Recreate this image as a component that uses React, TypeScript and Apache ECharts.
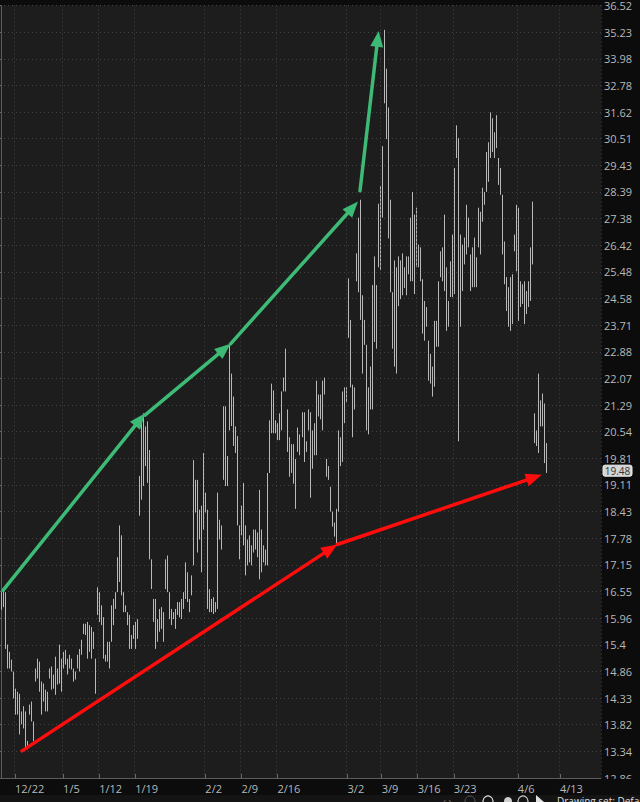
import React, { useEffect, useRef } from 'react';
import * as echarts from 'echarts';

// ---- axis tick labels ----
const yTickLabels = ['12.86','13.34','13.82','14.33','14.86','15.4','15.96','16.55','17.15','17.78','18.43','19.11','19.81','20.54','21.29','22.07','22.88','23.71','24.58','25.48','26.42','27.38','28.39','29.43','30.51','31.62','32.78','33.98','35.23','36.52'];
const xTickLabels = ['12/22','1/5','1/12','1/19','2/2','2/9','2/16','3/2','3/9','3/16','3/23','4/6','4/13'];
const xTickSlots = [7, 31, 49, 67, 102, 120, 138, 173, 190, 208, 226, 258, 279];
const SLOT_COUNT = 300;

// ---- bar lows / highs (one bar per slot) ----
const barLows = [
  16.14,16.20,15.31,14.91,14.91,14.85,14.32,14.01,14.01,13.64,13.83,13.75,13.39,13.37,14.01,13.88,13.52,14.65,14.71,14.45,
  14.01,14.26,14.07,14.07,14.71,14.49,14.51,14.39,14.59,14.61,14.45,14.91,14.99,14.79,14.91,14.89,14.65,14.69,14.91,14.85,
  15.19,15.62,15.60,15.11,15.25,15.11,15.31,14.41,16.03,15.88,15.81,15.11,15.05,15.05,14.91,15.46,15.81,16.16,16.53,16.76,
  16.46,16.09,16.09,15.81,15.31,15.31,15.52,15.31,15.52,18.33,
  18.73,19.08,19.60,19.16,17.28,16.60,15.88,15.31,15.46,15.67,15.73,15.46,16.60,16.53,15.94,15.81,15.94,15.73,16.03,15.98,
  15.94,16.16,16.38,16.31,16.09,16.46,17.14,18.41,17.44,17.75,16.98,17.99,18.41,16.16,16.09,16.09,16.05,16.09,16.16,17.75,
  17.51,19.24,19.08,19.08,20.57,20.69,20.14,19.95,18.09,17.28,17.85,17.61,16.91,17.14,17.21,17.14,17.44,17.51,17.33,16.82,
  16.98,17.21,17.14,17.14,19.42,20.49,20.49,20.49,20.30,20.30,
  20.57,21.68,21.68,19.98,19.32,19.42,19.14,18.50,19.98,19.89,20.38,19.71,19.98,20.57,18.78,19.53,19.89,19.89,20.96,20.88,
  20.57,21.59,19.32,19.24,18.43,18.06,17.82,17.65,18.43,19.60,19.71,20.77,21.36,23.31,21.80,20.38,21.16,25.16,24.79,23.88,
  22.21,23.09,20.57,20.46,21.16,21.16,23.18,22.97,25.64,25.54,27.42,32.00,30.49,26.66,24.79,22.97,22.42,22.21,24.33,24.56,
  24.69,24.93,24.69,25.40,25.16,
  25.16,24.73,25.64,25.64,25.16,23.44,23.22,23.66,22.00,21.91,21.53,21.82,23.03,23.03,25.30,25.16,24.83,23.53,23.66,24.63,
  24.63,24.73,29.72,20.27,23.66,24.83,25.74,26.09,26.34,24.83,24.96,24.96,24.96,26.34,26.09,27.27,27.90,28.39,28.78,29.72,
  29.96,29.72,30.12,28.66,28.28,26.09,25.06,24.17,23.66,23.53,23.75,26.20,25.50,23.85,24.30,24.40,23.75,24.07,24.30,24.50,
  25.74,20.22,20.14,19.95,20.68,20.68,19.68,19.42
];
const barHighs = [
  16.53,16.57,16.53,15.40,15.25,15.09,14.85,14.51,14.45,14.41,14.07,14.17,14.07,13.52,14.20,14.26,13.88,14.91,15.11,15.05,
  14.65,14.61,14.49,14.45,14.91,14.95,14.79,15.15,14.91,15.40,15.11,15.25,15.29,15.11,15.19,15.11,14.91,14.85,15.19,15.31,
  15.50,15.84,15.84,15.88,15.81,15.77,15.67,15.11,16.64,16.53,16.24,15.98,15.19,15.46,15.46,16.24,16.38,16.53,17.33,18.09,
  17.85,16.53,16.24,16.09,16.03,15.60,15.81,15.88,15.94,19.34,
  20.96,21.05,20.68,20.82,20.03,17.28,16.38,16.38,15.94,16.16,16.20,16.09,17.28,17.37,16.53,16.16,16.09,16.16,16.31,16.31,
  16.38,16.53,17.21,16.98,16.38,16.91,19.76,19.24,19.24,18.48,18.58,19.95,18.91,18.48,16.60,16.38,16.42,16.31,18.91,18.23,
  18.09,21.25,21.25,19.87,23.12,22.21,21.53,20.68,20.41,18.09,18.58,19.16,18.09,17.75,17.85,17.61,17.99,17.99,17.92,18.98,
  17.99,17.61,17.51,19.42,20.85,21.91,21.71,20.85,20.77,21.05,
  21.68,22.09,22.97,21.16,20.38,20.19,20.19,19.79,20.65,20.46,21.08,21.08,20.27,21.16,21.08,20.57,20.77,22.00,21.59,21.59,
  22.00,22.09,19.79,19.60,19.06,18.43,18.16,18.50,20.57,20.38,21.68,21.80,21.80,25.26,23.88,21.88,21.80,26.13,27.42,28.09,
  24.69,23.88,23.09,21.80,22.42,25.03,26.02,25.03,27.94,28.62,30.20,35.34,33.53,31.82,28.09,24.79,25.88,25.64,26.02,25.88,
  26.13,25.64,26.02,26.02,27.42,
  28.39,27.53,27.79,26.44,26.34,25.23,24.50,24.30,23.22,22.81,22.42,23.85,23.85,25.16,26.20,26.34,27.53,25.64,24.50,25.85,
  26.80,29.32,31.06,30.53,26.80,26.44,26.69,27.90,27.42,26.09,26.34,26.69,25.99,27.79,27.64,28.55,28.39,29.96,30.36,31.61,
  31.36,30.77,31.49,29.72,29.32,28.28,26.55,25.30,24.96,25.30,25.40,26.80,27.90,27.79,25.16,25.06,25.16,24.83,25.16,26.34,
  28.02,21.05,20.57,22.21,21.42,21.62,21.33,20.22
];
const lastPrice = 19.48;

// ---- drawn trend arrows: [startSlot, startPrice, endSlot, endPrice] ----
const greenArrows = [
  [1.0, 16.57, 71.9, 21.05],
  [71.9, 21.0, 114.6, 23.12],
  [114.6, 23.12, 178.2, 28.02],
  [179.2, 28.43, 188.5, 35.29],
];
const redArrows = [
  [10.5, 13.34, 167.8, 17.63],
  [167.8, 17.63, 269.9, 19.37],
];

// log transform onto an evenly spaced price-grid scale
const BASE = 12.86;
const STEP = Math.log(35.23 / 12.86) / 28;
const toU = (p: number) => Math.log(p / BASE) / STEP;

const GREEN = '#3dba76';
const RED = '#ff0d0d';
const TXT = '#b8b8b8';
const FONT = '"Open Sans", "DejaVu Sans", sans-serif';

export default function App() {
  const ref = useRef<HTMLDivElement>(null);

  useEffect(() => {
    const el = ref.current!;
    const chart = echarts.init(el, null, { renderer: 'svg' });

    const slotNames = Array.from({ length: SLOT_COUNT }, (_, i) => {
      const k = xTickSlots.indexOf(i);
      return k >= 0 ? xTickLabels[k] : '';
    });
    const isTick = (idx: number) => xTickSlots.indexOf(idx) >= 0;
    const barData = barLows.map((lo, i) => [i, toU(lo), toU(barHighs[i])]);
    const dotted = { color: '#444444', width: 1, type: [1, 3] as any };

    chart.setOption({
      animation: false,
      backgroundColor: '#0c0c0c',
      grid: {
        left: 0, top: 0, width: 601, height: 778,
        show: true, backgroundColor: '#1d1d1d', borderWidth: 0,
      },
      xAxis: [
        {
          type: 'category',
          data: slotNames,
          boundaryGap: true,
          z: 10,
          axisLine: { show: true, lineStyle: { color: '#5c5c5c', width: 1 } },
          axisTick: { show: true, inside: true, length: 4, alignWithLabel: true, interval: (i: number) => isTick(i), lineStyle: { color: '#6a6a6a' } },
          axisLabel: { show: true, interval: (i: number) => isTick(i), align: 'left', margin: 5, color: TXT, fontSize: 11, fontFamily: FONT },
          splitLine: { show: true, interval: (i: number) => isTick(i), lineStyle: dotted },
        },
        { type: 'value', min: -0.5, max: SLOT_COUNT - 0.5, show: false },
      ],
      yAxis: {
        type: 'value',
        position: 'right',
        min: 0,
        max: 29,
        interval: 1,
        z: 0,
        axisLine: { show: true, lineStyle: { color: '#5c5c5c', width: 1 } },
        axisTick: { show: true, inside: true, length: 4, lineStyle: { color: '#6a6a6a' } },
        axisLabel: {
          margin: 3, color: TXT, fontSize: 11, fontFamily: FONT,
          showMinLabel: true, showMaxLabel: true,
          formatter: (v: number) => yTickLabels[Math.round(v)] ?? '',
        },
        splitLine: { show: true, lineStyle: dotted },
      },
      series: [
        {
          type: 'custom',
          xAxisIndex: 1,
          yAxisIndex: 0,
          data: barData,
          encode: { x: 0, y: [1, 2] },
          clip: true,
          z: 2,
          renderItem: (params: any, api: any) => {
            const x = api.value(0);
            const a = api.coord([x, api.value(1)]);
            const b = api.coord([x, api.value(2)]);
            const px = Math.round(a[0]) + 0.5;
            return {
              type: 'line',
              shape: { x1: px, y1: a[1], x2: px, y2: Math.min(b[1], a[1] - 1) },
              style: { stroke: '#b8b8b8', lineWidth: 1 },
            };
          },
        },
      ],
    });

    const toPx = (x: number, p: number) => chart.convertToPixel({ seriesIndex: 0 } as any, [x, toU(p)]) as number[];

    const arrowEls = (a: number[], color: string) => {
      const s = toPx(a[0], a[1]);
      const e = toPx(a[2], a[3]);
      const dx = e[0] - s[0];
      const dy = e[1] - s[1];
      const len = Math.hypot(dx, dy);
      const ux = dx / len;
      const uy = dy / len;
      const hl = 16;
      const hw = 6.5;
      const bx = e[0] - ux * hl;
      const by = e[1] - uy * hl;
      return [
        {
          type: 'line', z: 30,
          shape: { x1: s[0], y1: s[1], x2: bx + ux * 3, y2: by + uy * 3 },
          style: { stroke: color, lineWidth: 3.5, lineCap: 'round' },
        },
        {
          type: 'polygon', z: 30,
          shape: { points: [[e[0], e[1]], [bx - uy * hw, by + ux * hw], [bx + uy * hw, by - ux * hw]] },
          style: { fill: color },
        },
      ];
    };

    const priceY = toPx(0, lastPrice)[1];
    const elements: any[] = [
      // dark strip under the plot that covers the lower half of the bottom price label
      { type: 'rect', z: 5, shape: { x: 0, y: 779, width: 640, height: 17 }, style: { fill: '#0c0c0c' } },
      // toolbar strip
      { type: 'rect', z: 6, shape: { x: 0, y: 795, width: 640, height: 7 }, style: { fill: '#141414' } },
      { type: 'text', z: 7, x: 557, y: 796, style: { text: 'Drawing set: Default', fill: '#dcdcdc', font: `10px ${FONT}` } },
      { type: 'text', z: 7, x: 443, y: 796, style: { text: '‹ ›', fill: '#777', font: `10px ${FONT}` } },
      { type: 'circle', z: 7, shape: { cx: 470, cy: 801, r: 5 }, style: { fill: 'none', stroke: '#555', lineWidth: 1 } },
      { type: 'circle', z: 7, shape: { cx: 488, cy: 801, r: 5 }, style: { fill: 'none', stroke: '#ddd', lineWidth: 1.2 } },
      { type: 'circle', z: 7, shape: { cx: 508, cy: 801, r: 4 }, style: { fill: '#cfcfcf' } },
      { type: 'circle', z: 7, shape: { cx: 523, cy: 801, r: 5 }, style: { fill: 'none', stroke: '#ccc', lineWidth: 1.2 } },
      { type: 'polygon', z: 7, shape: { points: [[536, 795], [544, 802], [536, 802]] }, style: { fill: '#e0e0e0' } },
      // last price tag
      { type: 'rect', z: 30, shape: { x: 603, y: priceY - 5.5, width: 29, height: 11, r: 2 }, style: { fill: '#d4d4d4', stroke: '#f0f0f0', lineWidth: 1 } },
      { type: 'text', z: 31, x: 617.5, y: priceY, style: { text: lastPrice.toFixed(2), fill: '#333333', font: `10px ${FONT}`, align: 'center', verticalAlign: 'middle' } },
    ];
    greenArrows.forEach((a) => elements.push(...arrowEls(a, GREEN)));
    redArrows.forEach((a) => elements.push(...arrowEls(a, RED)));

    chart.setOption({ graphic: { elements } });

    return () => chart.dispose();
  }, []);

  return (
    <div
      ref={ref}
      style={{ position: 'fixed', left: 0, top: 0, width: 640, height: 802 }}
    />
  );
}
